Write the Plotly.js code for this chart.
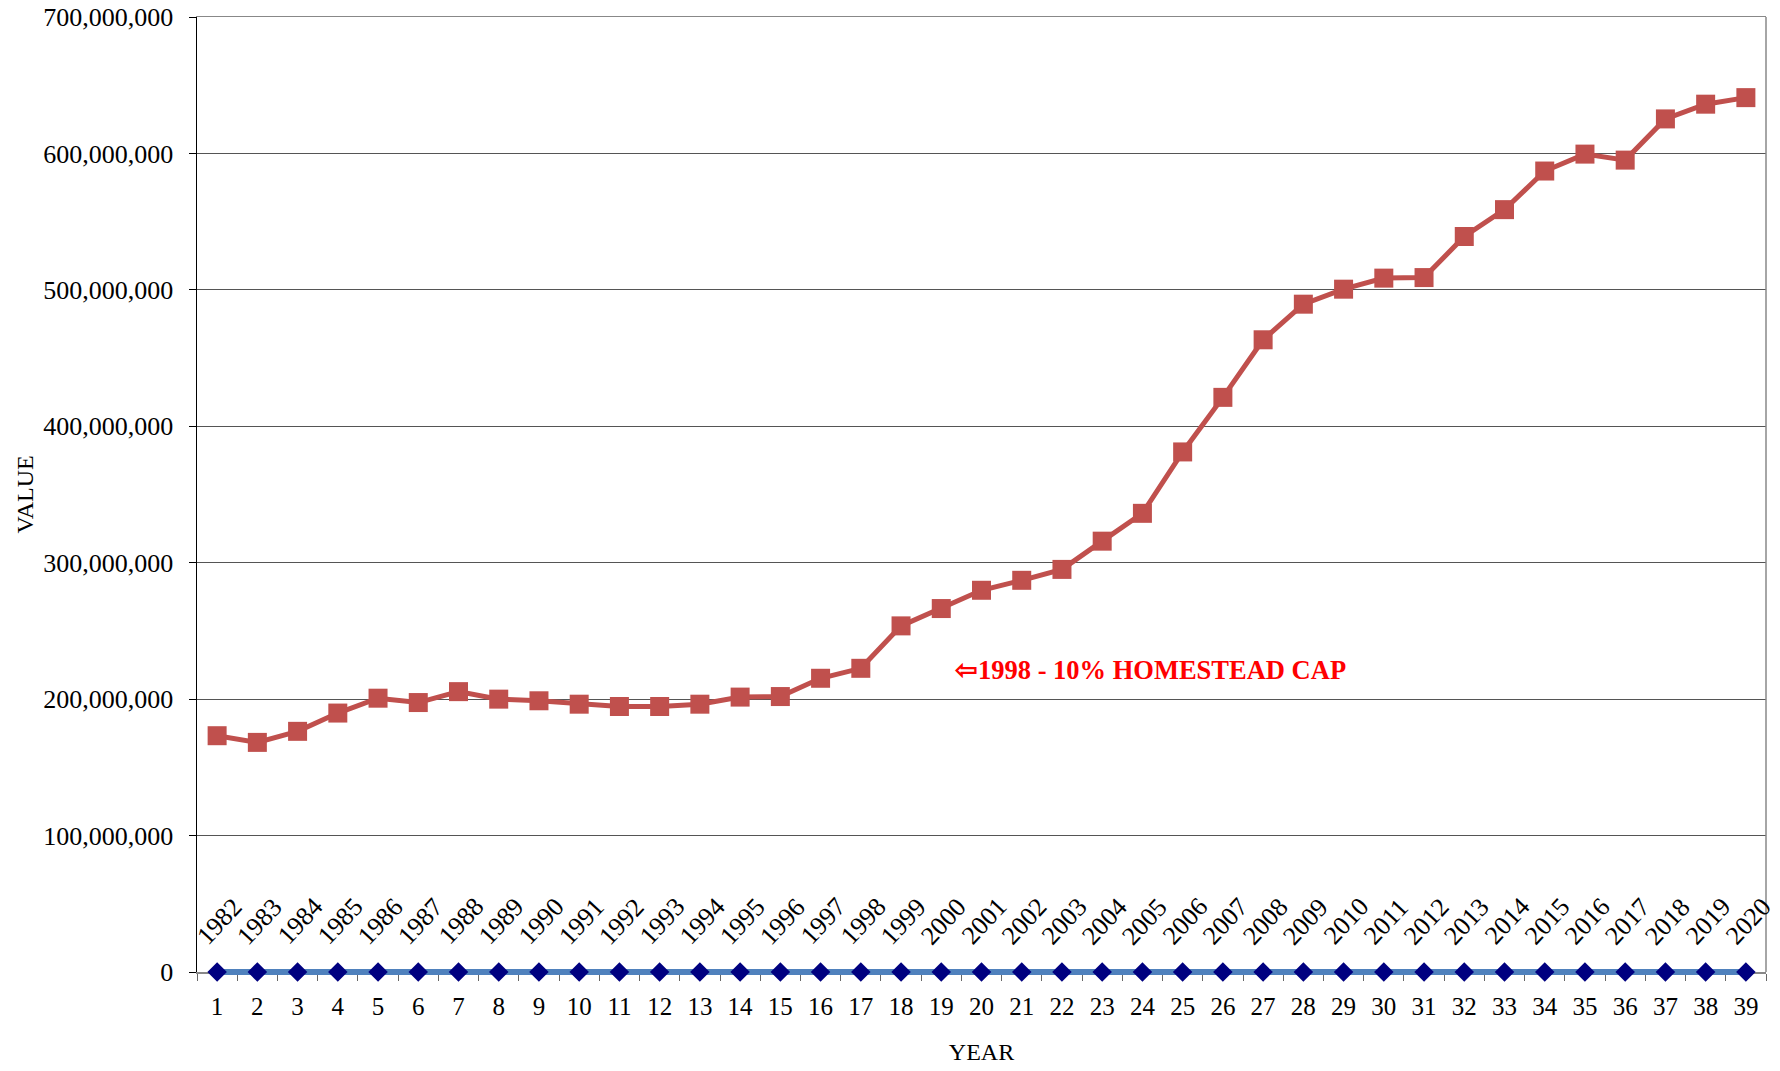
<!DOCTYPE html>
<html><head><meta charset="utf-8">
<script src="https://cdn.plot.ly/plotly-3.0.1.min.js"></script>
<style>html,body{margin:0;padding:0;background:#fff}#chart{width:1780px;height:1071px}</style>
</head><body><div id="chart"></div>
<script>
const periods = [1,2,3,4,5,6,7,8,9,10,11,12,13,14,15,16,17,18,19,20,21,22,23,24,25,26,27,28,29,30,31,32,33,34,35,36,37,38,39];
const years = [1982,1983,1984,1985,1986,1987,1988,1989,1990,1991,1992,1993,1994,1995,1996,1997,1998,1999,2000,2001,2002,2003,2004,2005,2006,2007,2008,2009,2010,2011,2012,2013,2014,2015,2016,2017,2018,2019,2020];
const values = [173200000,168300000,176400000,189800000,200700000,197500000,205500000,200000000,198800000,196300000,194600000,194600000,196300000,201500000,201900000,215300000,222600000,253700000,266400000,279800000,287100000,295100000,315800000,336200000,381200000,421200000,463400000,489500000,500500000,508600000,509000000,539100000,558800000,587100000,599500000,595100000,625300000,636100000,640900000];
const baseline = [0,0,0,0,0,0,0,0,0,0,0,0,0,0,0,0,0,0,0,0,0,0,0,0,0,0,0,0,0,0,0,0,0,0,0,0,0,0,0];
const noteText = "\u21E61998 - 10% HOMESTEAD CAP";
const noteX = 19.3, noteY = 221500000;

const FONT = '"Liberation Serif", "Times New Roman", Times, serif';

// geometry: plot top 17px, zero line at 972px, full subplot bottom at 985px
const H = 1071, TOP = 17, ZERO = 972, BOT = 985;
const YMAX = 700000000;
const mainDomainBottom = (BOT - ZERO) / (BOT - TOP);
const y2Min = -(BOT - ZERO) / (ZERO - TOP) * YMAX;

const traces = [
  {x: periods, y: values, type: 'scatter', mode: 'lines+markers', cliponaxis: false,
   xaxis: 'x', yaxis: 'y',
   line: {color: '#C0504D', width: 5},
   marker: {symbol: 'square', size: 19, color: '#C0504D'}},
  {x: periods, y: baseline, type: 'scatter', mode: 'lines+markers', cliponaxis: false,
   xaxis: 'x2', yaxis: 'y2',
   line: {color: '#4F81BD', width: 6},
   marker: {symbol: 'diamond', size: 15, color: '#000080'}}
];

const annotations = years.map((yr, i) => ({
  x: periods[i], y: baseline[i], xref: 'x', yref: 'y', text: String(yr), showarrow: false,
  textangle: -47, xanchor: 'center', yanchor: 'middle', xshift: 2, yshift: 51,
  font: {family: FONT, size: 26, color: '#000'}
}));
annotations.push({x: noteX, y: noteY, xref: 'x', yref: 'y', text: '<b>' + noteText + '</b>', showarrow: false,
  xanchor: 'left', yanchor: 'middle', font: {family: FONT, size: 26.5, color: '#FF0000'}});

const layout = {
  width: 1780, height: H,
  margin: {l: 197, r: 14, t: TOP, b: H - BOT, pad: 0},
  paper_bgcolor: '#fff', plot_bgcolor: 'rgba(0,0,0,0)',
  showlegend: false,
  font: {family: FONT, color: '#000'},
  xaxis: {range: [0.5, 39.5], tickmode: 'linear', tick0: 1, dtick: 1, ticks: '',
    showgrid: false, zeroline: false, showline: true, linecolor: '#888', linewidth: 1.5, mirror: true,
    tickfont: {family: FONT, size: 25, color: '#000'}, ticklabelstandoff: 11,
    minor: {tickmode: 'linear', tick0: 0.5, dtick: 1, ticks: 'outside', ticklen: 7, tickcolor: '#666', tickwidth: 1, showgrid: false},
    title: {text: 'YEAR', font: {family: FONT, size: 24, color: '#000'}, standoff: 24},
    automargin: false, anchor: 'y'},
  yaxis: {domain: [mainDomainBottom, 1], range: [0, YMAX], tickmode: 'linear', tick0: 0, dtick: 100000000, tickformat: ',d',
    showgrid: true, gridcolor: '#555', gridwidth: 1, zeroline: false,
    showline: true, linecolor: '#000', linewidth: 1.5,
    ticks: 'outside', ticklen: 7, tickcolor: '#000',
    tickfont: {family: FONT, size: 26, color: '#000'}, ticklabelstandoff: 10,
    title: {text: 'VALUE', font: {family: FONT, size: 24, color: '#000'}, standoff: 3},
    automargin: false, anchor: 'x'},
  xaxis2: {domain: [0, 1], range: [0.5, 39.5], visible: false, anchor: 'y2', fixedrange: true},
  yaxis2: {domain: [0, 1], range: [y2Min, YMAX], visible: false, anchor: 'x2', fixedrange: true},
  shapes: [{type: 'line', xref: 'paper', yref: 'paper', x0: 1, x1: 1, y0: mainDomainBottom, y1: 1, line: {color: '#888', width: 1.5}}],
  annotations: annotations
};

Plotly.newPlot('chart', traces, layout, {displayModeBar: false, staticPlot: true});
</script>
</body></html>
